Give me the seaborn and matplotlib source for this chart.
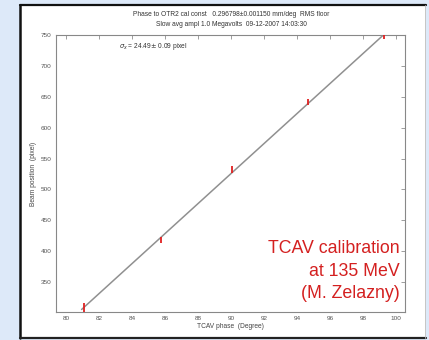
import numpy as np
import pandas as pd
import matplotlib
matplotlib.use("Agg")
import matplotlib.pyplot as plt
import seaborn as sns
from matplotlib.patches import Rectangle
from matplotlib.lines import Line2D

# ---- data ----
phase_deg = [81.1, 85.75, 90.05, 94.65, 99.3]
beam_pos_px = [309, 418, 532, 641, 748]
beam_err_px = [7, 5, 6, 5, 4]
fit_x = [80.95, 99.45]

x_ticks = [80, 82, 84, 86, 88, 90, 92, 94, 96, 98, 100]
y_ticks = [350, 400, 450, 500, 550, 600, 650, 700, 750]

title_lines = ["Phase to OTR2 cal const   0.296798\u00b10.001150 mm/deg  RMS floor",
               "Slow avg ampl 1.0 Megavolts  09-12-2007 14:03:30"]
sigma_label = r"$\sigma_x$ = 24.49$\pm$ 0.09 pixel"
note_text = "TCAV calibration\nat 135 MeV\n(M. Zelazny)"

sns.set_style("white")
plt.rcParams['font.family'] = ['Liberation Sans', 'DejaVu Sans']

W, H = 429, 340
fig = plt.figure(figsize=(W/100, H/100), dpi=100)
fig.patch.set_facecolor('#dde9f9')
fig.patches.append(Rectangle((20/W, 1-338/H), 406/W, 333/H, transform=fig.transFigure,
                             facecolor='white', edgecolor='none', zorder=-5))
for (x0, y0, x1, y1, c, lw) in [(20, 5, 426, 5, '#111111', 1.6),
                                (20, 5, 20, 338, '#111111', 1.8),
                                (20, 338, 426, 338, '#222222', 1.6),
                                (425, 5, 425, 338, '#bbbbbb', 0.6)]:
    fig.lines.append(Line2D([x0/W, x1/W], [1-y0/H, 1-y1/H], transform=fig.transFigure,
                            color=c, linewidth=lw, zorder=-4))

ax = fig.add_axes([56/W, 1-312/H, 349/W, 277/H])
ax.set_zorder(2)
ax.set_facecolor('white')

df = pd.DataFrame({"phase": phase_deg, "pos": beam_pos_px, "err": beam_err_px})
coef = np.polyfit(df["phase"], df["pos"], 1)
fit_df = pd.DataFrame({"x": fit_x, "y": np.polyval(coef, fit_x)})
sns.lineplot(data=fit_df, x="x", y="y", ax=ax, color='#909090', linewidth=1.1)
ax.errorbar(df["phase"], df["pos"], yerr=df["err"], fmt='none', ecolor='#e02020',
            elinewidth=1.3, capsize=0, zorder=3)

ax.set_xlim(79.4, 100.55)
ax.set_ylim(301.5, 750)
ax.set_xticks(x_ticks)
ax.set_yticks(y_ticks)
ax.tick_params(direction='in', length=3, width=0.5, labelsize=4.6, labelcolor='#555555',
               top=True, right=True, colors='#777777', pad=3)
for s in ax.spines.values():
    s.set_color('#888888')
    s.set_linewidth(0.8)

ax.set_xlabel("TCAV phase  (Degree)", fontsize=4.8, color='#444444', labelpad=1)
ax.set_ylabel("Beam position  (pixel)", fontsize=4.8, color='#444444', labelpad=3)

fig.text(231/W, 1-15/H, title_lines[0], ha='center', va='center', fontsize=4.8, color='#333333')
fig.text(231/W, 1-24/H, title_lines[1], ha='center', va='center', fontsize=4.8, color='#333333')

ax.text(83.2, 731, sigma_label, fontsize=4.8, color='#333333', ha='left', va='center')
ax.text(0.985, 0.035, note_text, transform=ax.transAxes, ha='right', va='bottom',
        fontsize=12.8, color='#d42020', linespacing=1.42)

fig.savefig("out.png", dpi=100)
